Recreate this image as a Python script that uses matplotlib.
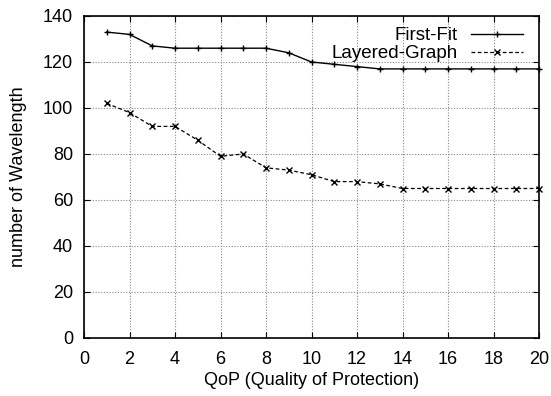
import matplotlib
matplotlib.use("Agg")
import matplotlib.pyplot as plt

plt.rcParams["font.family"] = ["Liberation Sans", "DejaVu Sans"]

qop = list(range(1, 21))
first_fit = [133, 132, 127, 126, 126, 126, 126, 126, 124, 120,
             119, 118, 117, 117, 117, 117, 117, 117, 117, 117]
layered = [102, 98, 92, 92, 86, 79, 80, 74, 73, 71,
           68, 68, 67, 65, 65, 65, 65, 65, 65, 65]

W, H = 551, 396
fig = plt.figure(figsize=(W / 100, H / 100), dpi=100)
ax = fig.add_axes([84 / W, (H - 338) / H, (539 - 84) / W, (338 - 16) / H])

ax.plot(qop, first_fit, color="black", linewidth=1.0, marker="+",
        markersize=5, markeredgewidth=1.0, label="First-Fit", clip_on=False)
ax.plot(qop, layered, color="black", linewidth=0.9, linestyle=(0, (3, 2)),
        marker="x", markersize=4, markeredgewidth=1.0,
        label="Layered-Graph", clip_on=False)

ax.set_xlim(0, 20)
ax.set_ylim(0, 140)
ax.set_xticks(range(0, 21, 2))
ax.set_yticks(range(0, 141, 20))
ax.grid(True, color="#888888", linestyle=(0, (1, 1.5)), linewidth=0.8)
ax.tick_params(direction="in", top=True, right=True, labelsize=13,
               length=4)
ax.tick_params(axis="y", pad=8)
ax.tick_params(axis="x", pad=9)
for s in ax.spines.values():
    s.set_linewidth(1.2)

ax.set_xlabel("QoP (Quality of Protection)", fontsize=13, labelpad=3)
ax.set_ylabel("number of Wavelength", fontsize=13, labelpad=11)

leg = ax.legend(loc="upper right", fontsize=13.5, frameon=False,
                markerfirst=False, handlelength=2.8, borderpad=0.1,
                labelspacing=0.05, handletextpad=0.7,
                bbox_to_anchor=(0.99, 1.0))
for t in leg.get_texts():
    t.set_ha("right")

fig.savefig("out.png", dpi=100)
